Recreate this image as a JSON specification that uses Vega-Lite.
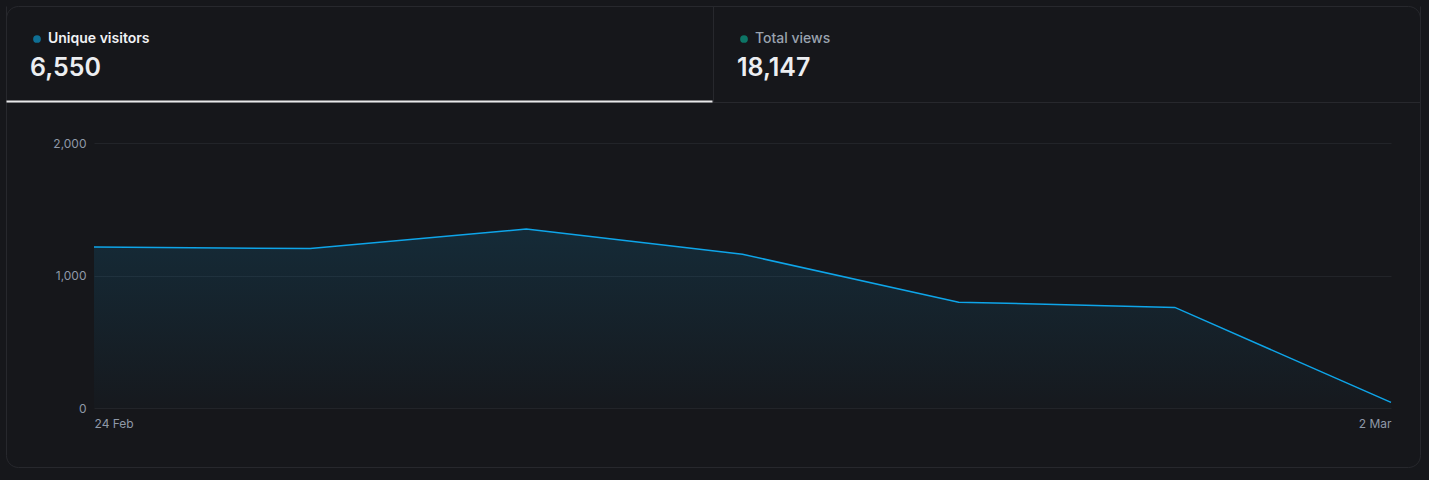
{
  "$schema": "https://vega.github.io/schema/vega-lite/v6.json",
  "width": 1414,
  "height": 461,
  "autosize": {"type": "none"},
  "padding": {"left": 6, "top": 6, "right": 9, "bottom": 13},
  "background": "#16171b",
  "config": {
    "font": "Inter",
    "view": {"stroke": "#27282d", "strokeWidth": 1, "cornerRadius": 12, "fill": "#16171b"},
    "axis": {"labelFont": "Inter"},
    "legend": {"labelFont": "Inter", "titleFont": "Inter"}
  },
  "datasets": {
    "daily": [
      {"date": "2025-02-24", "visitors": 1216},
      {"date": "2025-02-25", "visitors": 1203},
      {"date": "2025-02-26", "visitors": 1351},
      {"date": "2025-02-27", "visitors": 1160},
      {"date": "2025-02-28", "visitors": 799},
      {"date": "2025-03-01", "visitors": 759},
      {"date": "2025-03-02", "visitors": 42}
    ],
    "tabs": [
      {"metric": "Unique visitors", "total": 6550},
      {"metric": "Total views", "total": 18147}
    ]
  },
  "layer": [
    {
      "data": {"name": "daily"},
      "mark": {
        "type": "area",
        "line": {"color": "#0ea5e9", "strokeWidth": 1.5},
        "fill": {
          "gradient": "linear",
          "x1": 0, "y1": 0, "x2": 0, "y2": 1,
          "stops": [
            {"offset": 0, "color": "rgba(14,165,233,0.2)"},
            {"offset": 1, "color": "rgba(14,165,233,0.02)"}
          ]
        }
      },
      "encoding": {
        "x": {
          "field": "date",
          "type": "temporal",
          "scale": {"type": "utc", "range": [88, 1385], "nice": false},
          "axis": {
            "values": [
              {"year": 2025, "month": 2, "date": 24, "utc": true},
              {"year": 2025, "month": 3, "date": 2, "utc": true}
            ],
            "format": "%-d %b",
            "labelFlush": true,
            "offset": -59,
            "domain": false,
            "ticks": false,
            "grid": false,
            "labelPadding": 10,
            "labelColor": "#8f99a8",
            "labelFontSize": 12,
            "title": null
          }
        },
        "y": {
          "field": "visitors",
          "type": "quantitative",
          "scale": {"domain": [0, 2000], "range": [402, 137], "nice": false},
          "axis": {
            "values": [0, 1000, 2000],
            "format": ",d",
            "offset": -88,
            "domain": false,
            "ticks": false,
            "grid": true,
            "gridColor": "#222429",
            "labelPadding": 8,
            "labelColor": "#8f99a8",
            "labelFontSize": 12,
            "title": null
          }
        }
      }
    },
    {
      "data": {"name": "tabs"},
      "mark": {"type": "point", "opacity": 0},
      "encoding": {
        "x": {
          "field": "metric",
          "type": "nominal",
          "sort": null,
          "scale": {"type": "band", "range": [0, 1414], "paddingInner": 0, "paddingOuter": 0},
          "axis": {
            "orient": "top",
            "offset": -96,
            "labels": false,
            "title": null,
            "grid": false,
            "domainColor": "#27282d",
            "domainWidth": 1,
            "tickColor": "#27282d",
            "tickSize": 96,
            "tickBand": "extent"
          }
        }
      }
    },
    {
      "data": {"name": "tabs"},
      "transform": [{"filter": "datum.metric === 'Unique visitors'"}],
      "mark": {"type": "point", "filled": true, "opacity": 0},
      "encoding": {
        "x": {
          "field": "metric",
          "type": "nominal",
          "scale": {"type": "band", "range": [0, 706], "paddingInner": 0, "paddingOuter": 0},
          "axis": {
            "orient": "top",
            "offset": -95,
            "labels": false,
            "ticks": false,
            "title": null,
            "grid": false,
            "domainColor": "#e8e8ea",
            "domainWidth": 2
          }
        },
        "color": {
          "field": "metric",
          "type": "nominal",
          "scale": {"range": ["#0f6f94"]},
          "legend": {
            "orient": "none",
            "legendX": 24,
            "legendY": 26,
            "padding": 0,
            "title": "6,550",
            "titleOrient": "bottom",
            "titleAnchor": "start",
            "titleFontSize": 25,
            "titleFontWeight": 600,
            "titleColor": "#eceef1",
            "titlePadding": 10,
            "labelFontSize": 14,
            "labelFontWeight": 600,
            "labelColor": "#f1f2f4",
            "symbolType": "circle",
            "symbolSize": 60,
            "symbolOffset": 0,
            "labelOffset": 4
          }
        }
      }
    },
    {
      "data": {"name": "tabs"},
      "transform": [{"filter": "datum.metric === 'Total views'"}],
      "mark": {"type": "point", "filled": true, "opacity": 0},
      "encoding": {
        "fill": {
          "field": "metric",
          "type": "nominal",
          "scale": {"range": ["#0d7566"]},
          "legend": {
            "orient": "none",
            "legendX": 731,
            "legendY": 26,
            "padding": 0,
            "title": "18,147",
            "titleOrient": "bottom",
            "titleAnchor": "start",
            "titleFontSize": 25,
            "titleFontWeight": 600,
            "titleColor": "#eceef1",
            "titlePadding": 10,
            "labelFontSize": 14,
            "labelFontWeight": 500,
            "labelColor": "#9aa3af",
            "symbolType": "circle",
            "symbolSize": 60,
            "symbolOffset": 0,
            "labelOffset": 4
          }
        }
      }
    }
  ],
  "resolve": {
    "scale": {"x": "independent", "y": "independent", "color": "independent", "fill": "independent"},
    "axis": {"x": "independent", "y": "independent"}
  }
}
